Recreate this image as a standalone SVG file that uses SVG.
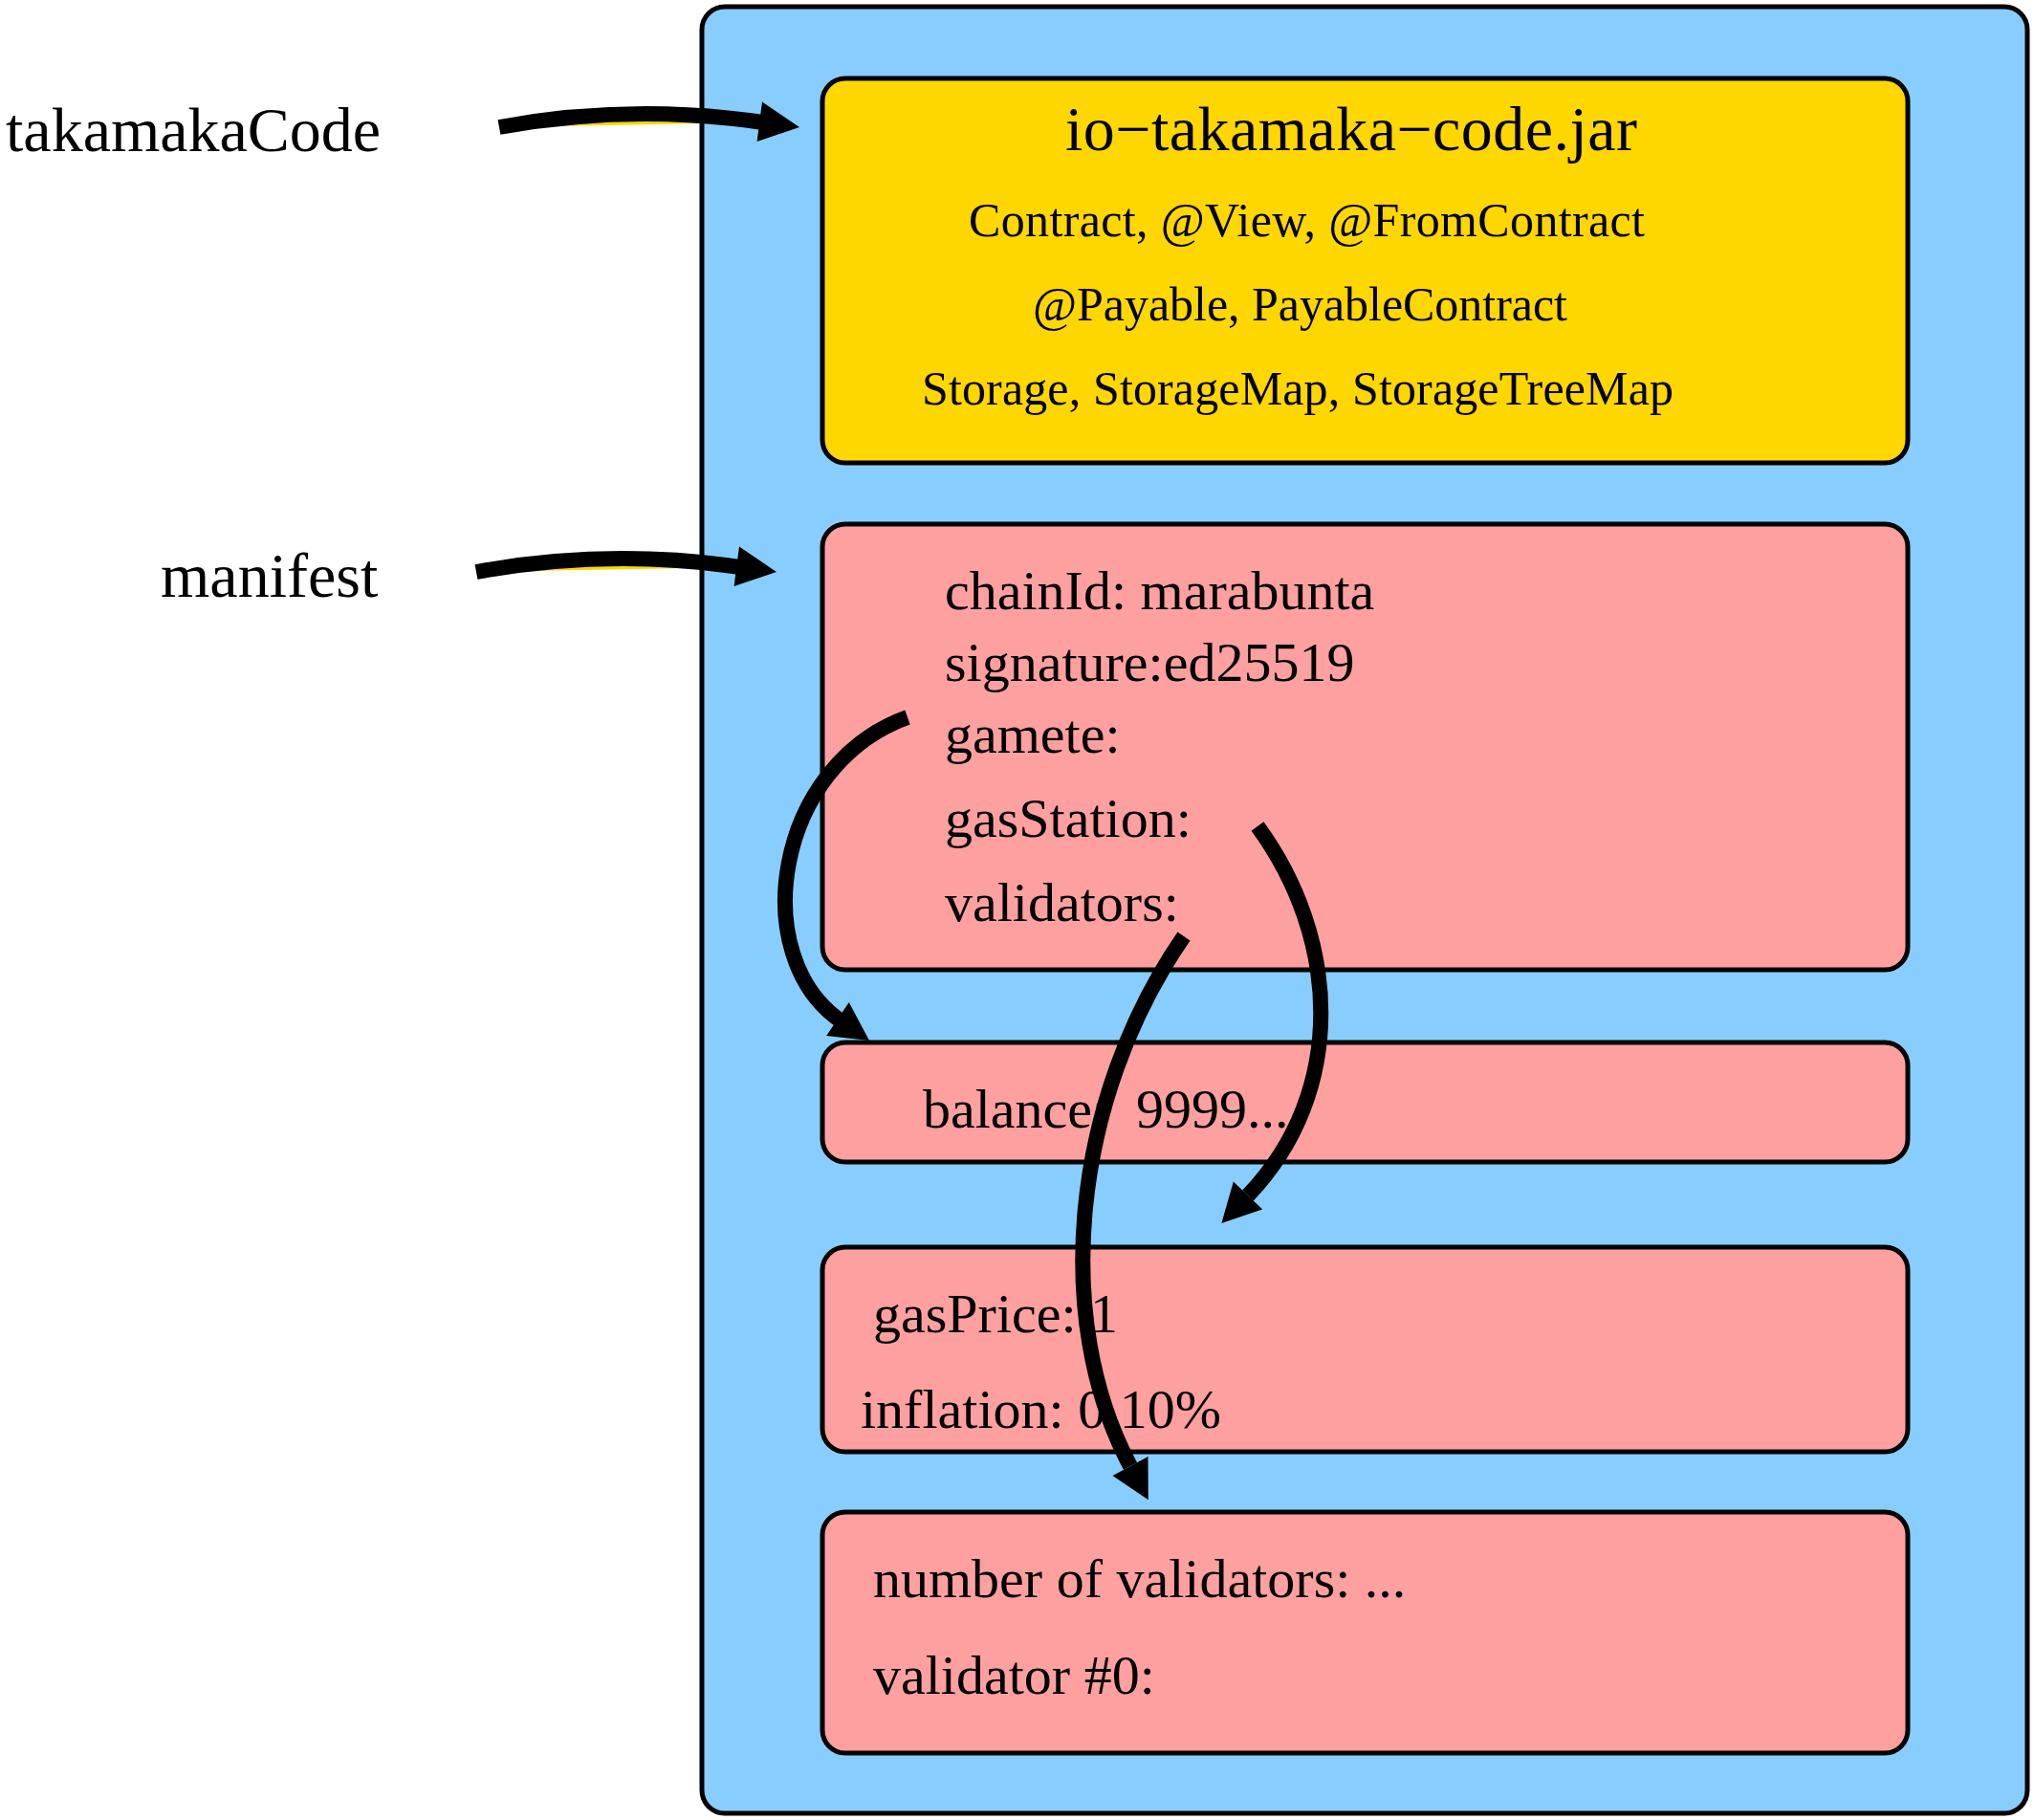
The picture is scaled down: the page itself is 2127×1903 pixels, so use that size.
<svg xmlns="http://www.w3.org/2000/svg" width="2127" height="1903" viewBox="0 0 2127 1903">
<style>
.box{stroke:#000;stroke-width:5}
.outer{fill:#87CEFF}
.yellow{fill:#FFD700}
.pink{fill:#FFA0A0}
text{font-family:"Liberation Serif","Times New Roman",serif;fill:#000}
.big{font-size:66px}
.mid{font-size:58px}
.small{font-size:50px}
.arc{stroke:#000;stroke-width:16;fill:none}
.arcf{stroke:#000;stroke-width:16;fill:#FFD700}
.head{fill:#000}
</style>
<rect width="2127" height="1903" fill="#fff"/>
<g id="labels">
<text class="big" x="6" y="158">takamakaCode</text>
<text class="big" x="168" y="624">manifest</text>
</g>
<g id="container">
<rect class="box outer" x="734" y="7" width="1386" height="1889" rx="24"/>
</g>
<g id="jar">
<rect class="box yellow" x="860" y="82" width="1135" height="402" rx="24"/>
<text class="big" x="1114" y="157" textLength="598" lengthAdjust="spacing">io−takamaka−code.jar</text>
<text class="small" x="1013" y="247" textLength="707" lengthAdjust="spacing">Contract, @View, @FromContract</text>
<text class="small" x="1080" y="335" textLength="559" lengthAdjust="spacing">@Payable, PayableContract</text>
<text class="small" x="964" y="423" textLength="786" lengthAdjust="spacing">Storage, StorageMap, StorageTreeMap</text>
</g>
<g id="manifestBox">
<rect class="box pink" x="860" y="548" width="1135" height="466" rx="24"/>
<text class="mid" x="988" y="637">chainId: marabunta</text>
<text class="mid" x="988" y="712">signature:ed25519</text>
<text class="mid" x="988" y="787">gamete:</text>
<text class="mid" x="988" y="875">gasStation:</text>
<text class="mid" x="988" y="963">validators:</text>
</g>
<g id="gameteBox">
<rect class="box pink" x="860" y="1090" width="1135" height="125" rx="24"/>
<text class="mid" x="965" y="1179">balance: <tspan x="1188">9999...</tspan></text>
</g>
<g id="gasStationBox">
<rect class="box pink" x="860" y="1304" width="1135" height="214" rx="24"/>
<text class="mid" x="913" y="1393">gasPrice: 1</text>
<text class="mid" x="900" y="1493">inflation: 0.10%</text>
</g>
<g id="validatorsBox">
<rect class="box pink" x="860" y="1581" width="1135" height="252" rx="24"/>
<text class="mid" x="913" y="1670">number of validators: ...</text>
<text class="mid" x="913" y="1771">validator #0:</text>
</g>
<g id="connectors">
<path class="arcf" d="M522,133 Q660,108 798,128"/>
<polygon class="head" points="836,133 797,106.5 791.6,148.1"/>
<g transform="translate(-24,465)">
<path class="arcf" d="M522,133 Q660,108 798,128"/>
<polygon class="head" points="836,133 797,106.5 791.6,148.1"/>
</g>
<path class="arc" d="M949,750 C810,800 780,1000 880,1068"/>
<polygon class="head" points="909,1088 864.2,1082.9 887.8,1048.1"/>
<path class="arc" d="M1315,864 C1400,980 1410,1140 1305,1250"/>
<polygon class="head" points="1277.4,1278.9 1320.2,1264.5 1289.8,1235.5"/>
<path class="arc" d="M1238,979 C1120,1150 1100,1380 1182,1533"/>
<polygon class="head" points="1200.8,1568.3 1163.5,1542.9 1200.5,1523.1"/>
</g>
</svg>
